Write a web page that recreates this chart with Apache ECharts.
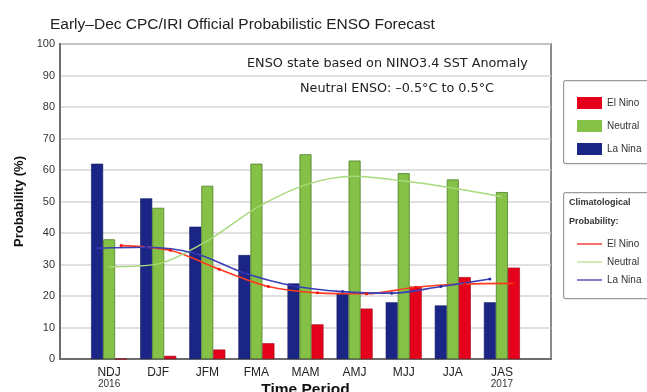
<!DOCTYPE html>
<html>
<head>
<meta charset="utf-8">
<script src="https://cdn.jsdelivr.net/npm/echarts@6/dist/echarts.min.js"></script>
<style>
  html, body { margin: 0; padding: 0; background: #fff; }
  #chart { width: 647px; height: 392px; }
</style>
</head>
<body>
<div id="chart"></div>
<script>
// Forecast seasons and the year shown under the first/last season
const periods = ['NDJ', 'DJF', 'JFM', 'FMA', 'MAM', 'AMJ', 'MJJ', 'JJA', 'JAS'];
const periodYears = ['2016', '', '', '', '', '', '', '', '2017'];

// Official forecast probabilities (%)
const laNina  = [62, 51, 42, 33, 24, 21, 18, 17, 18];
const neutral = [38, 48, 55, 62, 65, 63, 59, 57, 53];
const elNino  = [0, 1, 3, 5, 11, 16, 23, 26, 29];

// Climatological probabilities (%)
const climElNino  = [36, 34.5, 28.5, 23, 21, 20.7, 22.8, 23.8, 24];
const climNeutral = [29.3, 30.2, 37.5, 48, 55.3, 58, 56.5, 54.3, 51.5];
const climLaNina  = [35.2, 35.5, 33.5, 27.3, 23.2, 21.4, 20.9, 23, 25.4];

const yTicks = [0, 10, 20, 30, 40, 50, 60, 70, 80, 90, 100];

const C_RED = '#e5001b', C_GREEN = '#84c146', C_BLUE = '#1b2585';
const FONT = 'Liberation Sans';
const WIDE = 'DejaVu Sans';

// The seasons sit on an axis with one empty half-slot padding at each end
const slots = ['', ...periods, ''];
const pad = arr => [null, ...arr, null];

const BAR_W = 12;
const grid = { left: 60, right: 96, top: 44, bottom: 33 };
const slotPx = (647 - grid.left - grid.right) / (slots.length - 1);
const shift = BAR_W / slotPx;   // offset of the side bars, in slot units
const linePts = (arr, off) => arr.map((v, i) => [i + 1 + off, v]);

const chart = echarts.init(document.getElementById('chart'), null, { renderer: 'canvas' });

chart.setOption({
  animation: false,
  textStyle: { fontFamily: FONT },
  title: {
    text: 'Early\u2013Dec CPC/IRI Official Probabilistic ENSO Forecast',
    left: 45, top: 12,
    textStyle: { fontFamily: FONT, fontSize: 15.5, fontWeight: 'normal', color: '#222' }
  },
  grid: Object.assign({ show: true, borderColor: '#8a8a8a', borderWidth: 2, outerBoundsMode: 'none' }, grid),
  xAxis: [{
    type: 'category',
    data: slots,
    boundaryGap: false,
    axisLine: { lineStyle: { color: '#6d6d6d', width: 2 } },
    axisTick: { show: false },
    splitLine: { show: false },
    axisLabel: {
      interval: 0,
      margin: 7,
      formatter: (v, idx) => {
        if (!v) return '';
        const yr = periodYears[idx - 1];
        return yr ? '{p|' + v + '}\n{y|' + yr + '}' : '{p|' + v + '}';
      },
      rich: {
        p: { fontSize: 12, color: '#222', fontFamily: FONT, lineHeight: 13 },
        y: { fontSize: 10, color: '#333', fontFamily: FONT, lineHeight: 10 }
      }
    },
    name: 'Time Period',
    nameLocation: 'middle',
    nameGap: 23,
    nameMoveOverlap: false,
    nameTextStyle: { fontSize: 15.5, fontWeight: 'bold', color: '#111', fontFamily: FONT }
  }, {
    type: 'value',
    min: 0, max: slots.length - 1,
    show: false
  }],
  yAxis: {
    type: 'value',
    min: 0, max: 100, interval: 10,
    axisLine: { show: true, lineStyle: { color: '#6d6d6d', width: 2 } },
    axisTick: { show: false },
    splitLine: { lineStyle: { color: '#d6d6d6', width: 1.5 } },
    axisLabel: {
      margin: 5, fontSize: 11, color: '#333',
      formatter: v => yTicks.includes(v) ? String(v) : ''
    },
    name: 'Probability (%)',
    nameLocation: 'middle',
    nameGap: 34,
    nameMoveOverlap: false,
    nameTextStyle: { fontSize: 13, fontWeight: 'bold', color: '#111', fontFamily: FONT }
  },
  legend: [{
    data: ['El Nino', 'Neutral', 'La Nina'],
    orient: 'vertical',
    left: 572, top: 92,
    itemWidth: 25, itemHeight: 12, itemGap: 11,
    icon: 'rect',
    itemStyle: { borderWidth: 0 },
    textStyle: { fontSize: 10, color: '#333', fontFamily: FONT }
  }, {
    data: ['cEl', 'cNeutral', 'cLa'],
    orient: 'vertical',
    left: 572, top: 234,
    itemWidth: 25, itemHeight: 10, itemGap: 8,
    icon: 'path://M0,4.4 L25,4.4 L25,5.6 L0,5.6 Z',
    itemStyle: { borderWidth: 0 },
    formatter: n => ({ cEl: 'El Nino', cNeutral: 'Neutral', cLa: 'La Nina' })[n],
    textStyle: { fontSize: 10, color: '#333', fontFamily: FONT }
  }],
  graphic: [
    { type: 'rect', left: 563, top: 80, shape: { width: 100, height: 83, r: 2 },
      style: { fill: 'rgba(0,0,0,0)', stroke: '#9a9a9a', lineWidth: 1.2 }, z: 0 },
    { type: 'rect', left: 563, top: 192, shape: { width: 100, height: 106, r: 2 },
      style: { fill: 'rgba(0,0,0,0)', stroke: '#9a9a9a', lineWidth: 1.2 }, z: 0 },
    { type: 'text', left: 569, top: 198,
      style: { text: 'Climatological', fontSize: 9, fontWeight: 'bold', fill: '#333', fontFamily: FONT } },
    { type: 'text', left: 569, top: 217,
      style: { text: 'Probability:', fontSize: 9, fontWeight: 'bold', fill: '#333', fontFamily: FONT } },
    { type: 'text', left: 247, top: 57,
      style: { text: 'ENSO state based on NINO3.4 SST Anomaly', fontSize: 12.8, fill: '#222', fontFamily: WIDE } },
    { type: 'text', left: 300, top: 82,
      style: { text: 'Neutral ENSO: \u20130.5\u00b0C to 0.5\u00b0C', fontSize: 12.8, fill: '#222', fontFamily: WIDE } }
  ],
  series: [
    { name: 'La Nina', type: 'bar', data: pad(laNina), barWidth: BAR_W, barGap: '0%',
      itemStyle: { color: C_BLUE, borderColor: '#101a60', borderWidth: 0.6 } },
    { name: 'Neutral', type: 'bar', data: pad(neutral), barWidth: BAR_W, barGap: '0%',
      itemStyle: { color: C_GREEN, borderColor: '#4f7f2a', borderWidth: 0.8 } },
    { name: 'El Nino', type: 'bar', data: pad(elNino), barWidth: BAR_W, barGap: '0%',
      itemStyle: { color: C_RED, borderColor: '#a00010', borderWidth: 0.6 } },
    { name: 'cEl', type: 'line', xAxisIndex: 1, data: linePts(climElNino, shift),
      smooth: 0.3, symbol: 'circle', symbolSize: 3, color: '#ff3b1d',
      lineStyle: { width: 1.6, color: '#ff3b1d' }, itemStyle: { color: '#f01010' }, z: 5 },
    { name: 'cNeutral', type: 'line', xAxisIndex: 1, data: linePts(climNeutral, 0),
      smooth: 0.3, showSymbol: false, color: '#b3df86',
      lineStyle: { width: 1.4, color: '#a8d97a' }, z: 5 },
    { name: 'cLa', type: 'line', xAxisIndex: 1, data: linePts(climLaNina, -shift),
      smooth: 0.3, symbol: 'circle', symbolSize: 3, color: '#4a47c0',
      lineStyle: { width: 1.6, color: '#3b3fb5' }, itemStyle: { color: '#2a2aa8' }, z: 5 }
  ]
});
</script>
</body>
</html>
